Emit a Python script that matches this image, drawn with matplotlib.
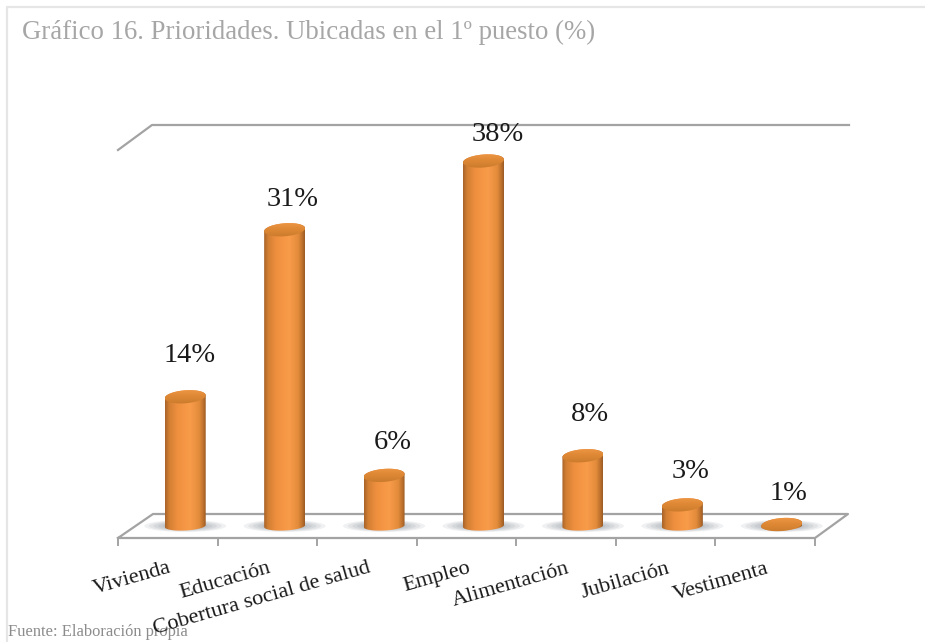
import numpy as np
import matplotlib.pyplot as plt
from matplotlib.colors import LinearSegmentedColormap
from matplotlib.patches import Ellipse, Polygon

categories = ['Vivienda', 'Educación', 'Cobertura social de salud', 'Empleo',
              'Alimentación', 'Jubilación', 'Vestimenta']
values = [14, 31, 6, 38, 8, 3, 1]
title = 'Gráfico 16. Prioridades. Ubicadas en el 1º puesto (%)'
source = 'Fuente: Elaboración propia'

W, H = 925, 642
BASE = 0.85   # the value axis does not start at zero
PX_X = 99.43  # pixels per category
PX_Y = 9.825  # pixels per percent

plt.rcParams['font.family'] = ['Liberation Serif', 'DejaVu Serif']

body_cmap = LinearSegmentedColormap.from_list('body', [
    (0.0, '#a9642a'), (0.10, '#d27f33'), (0.30, '#ef8f3f'), (0.62, '#f99c4a'),
    (0.84, '#e28b3b'), (0.95, '#b86d2b'), (1.0, '#9a5b24')])
top_cmap = LinearSegmentedColormap.from_list('top', ['#c97a2c', '#dc8734', '#ee9644'])

fig = plt.figure(figsize=(W / 100, H / 100), dpi=100)

# page and floor drawn in pixel coordinates
bg = fig.add_axes([0, 0, 1, 1])
bg.set_xlim(0, W)
bg.set_ylim(H, 0)
bg.axis('off')

bg.plot([7, 7, W], [H, 7, 7], color='#e6e6e6', lw=1.6)
bg.text(22, 32, title, fontsize=19.3, color='#a6a6a6', va='center', ha='left')

grey = '#a3a3a3'
bg.plot([118, 152, 849], [150, 125, 125], color=grey, lw=1.6)
bg.plot([118, 153, 848, 815, 118], [538, 514, 514, 538, 538], color=grey, lw=1.6)
for tx in np.linspace(118, 815, len(categories) + 1):
    bg.plot([tx, tx], [538, 545], color=grey, lw=1.4)

# bars live on their own value axis, with some room below the base for the shadows
ax = fig.add_axes([135.5 / W, (H - 546) / H, 696 / W, 421 / H])
ax.axis('off')
xlim = (-0.5, 6.5)
ylim = (BASE - 20 / PX_Y, BASE + 401 / PX_Y)

half = 20.5 / PX_X


def rim(cx, val, ry_px, tilt_px, t):
    # points along a slightly tilted ellipse, t in radians
    x = cx + half * np.cos(t)
    y = val + (ry_px * np.sin(t) + tilt_px * np.cos(t)) / PX_Y
    return np.column_stack([x, y])


for i, (name, val) in enumerate(zip(categories, values)):
    # soft shadow on the floor either side of the cylinder
    for k in range(8):
        f = 1 - k / 8
        ax.add_patch(Ellipse((i, BASE), 2 * (37 * f + 4) / PX_X, 2 * (5.5 * f + .5) / PX_Y,
                             color='#5a6470', alpha=0.09, lw=0, zorder=1))

    lower = rim(i, BASE, 4.5, 1.0, np.linspace(np.pi, 2 * np.pi, 40))
    upper = rim(i, val, 6.5, 1.5, np.linspace(0, np.pi, 40))
    body = Polygon(np.vstack([lower, upper]), closed=True, fc='none', ec='none')
    ax.add_patch(body)
    grad = np.linspace(0, 1, 128)[None, :]
    im = ax.imshow(grad, cmap=body_cmap, aspect='auto', zorder=2,
                   extent=[i - half, i + half, BASE - 1, val + 1])
    im.set_clip_path(body)

    # cap of the cylinder
    cap_pts = rim(i, val, 6.5, 1.5, np.linspace(0, 2 * np.pi, 80))
    cap = Polygon(cap_pts, closed=True, fc='none', ec='none')
    ax.add_patch(cap)
    cap_im = ax.imshow(np.linspace(1, 0, 32)[:, None], cmap=top_cmap, aspect='auto', zorder=3,
                       extent=[i - half, i + half, val - 8 / PX_Y, val + 8 / PX_Y])
    cap_im.set_clip_path(cap)

ax.set_xlim(*xlim)
ax.set_ylim(*ylim)

# value labels sit a little up and to the right of each cylinder, offsets in points
label_shift = [(3, 30), (6, 22), (6, 24), (10, 19), (5, 30), (6, 24), (5, 22)]
for i, val in enumerate(values):
    ax.annotate(f'{val}%', xy=(i, val), xytext=label_shift[i], textcoords='offset points',
                ha='center', va='center', fontsize=20.5, color='#1a1a1a',
                annotation_clip=False, zorder=5)

# category labels end below their slot and rise to the right
for i, name in enumerate(categories):
    bg.text(171 + i * 99.6, 568, name, rotation=16, rotation_mode='anchor',
            ha='right', va='center', fontsize=16, color='#1a1a1a', zorder=6)

bg.text(8, 632, source, fontsize=11.9, color='#8c8c8c', va='center', ha='left', zorder=0)

fig.savefig('out.png', dpi=100)
